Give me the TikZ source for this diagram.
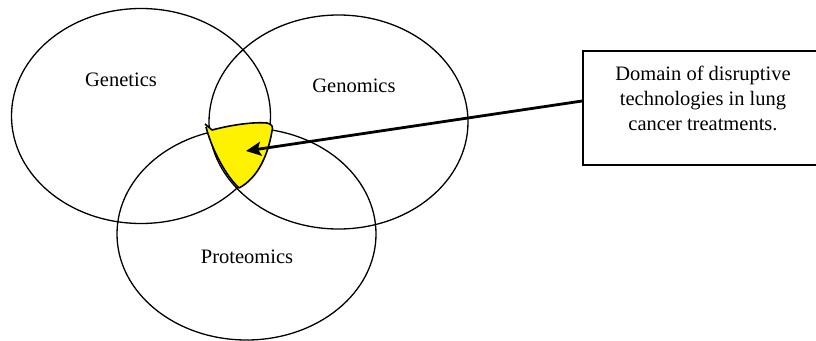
\documentclass[tikz,border=0pt]{standalone}
\usepackage{fontspec}
\setmainfont{Liberation Serif}
\usetikzlibrary{shapes.geometric,arrows.meta}
\begin{document}
\begin{tikzpicture}[x=1pt,y=-1pt,
  setcirc/.style={draw,ellipse,line width=1.3pt,inner sep=0pt,minimum width=259pt,minimum height=215pt},
  lbl/.style={font=\fontsize{20.5}{25}\selectfont,inner sep=0pt},
  infobox/.style={draw,line width=1.8pt,minimum width=240pt,minimum height=114pt,inner sep=0pt},
  pointer/.style={line width=2.8pt,-{Stealth[length=15pt,width=14pt,inset=3pt]}}
 ]
\useasboundingbox (0,0) rectangle (816,340);
\clip (0,0) rectangle (816,340);
\node[setcirc] (genetics) at (141,116) {};
\node[setcirc,minimum height=214pt] (genomics) at (338.5,122) {};
\node[setcirc,minimum height=212pt] (proteomics) at (246.5,234) {};
\node[lbl] (tgenetics) at (121,80) {Genetics};
\node[lbl] (tgenomics) at (354,86) {Genomics};
\node[lbl] (tproteomics) at (247,257) {Proteomics};
\fill[yellow] (205,124) -- (212,130) .. controls (235,124) and (255,122) .. (267,123)
  .. controls (273,124) and (273,128) .. (272,131)
  .. controls (268,155) and (258,178) .. (239,188)
  .. controls (226,176) and (212,150) .. (206,127) -- cycle;
\draw[line width=1.6pt,line join=round] (205,124) -- (212,130) .. controls (235,124) and (255,122) .. (267,123)
  .. controls (273,124) and (273,128) .. (272,131)
  .. controls (268,155) and (258,178) .. (239,188)
  .. controls (226,176) and (212,150) .. (206,127);
\node[infobox] (box) at (703,108) {};
\node[lbl,align=center] (boxtxt) at (703,98) {Domain of disruptive\\technologies in lung\\cancer treatments.};
\coordinate (tip) at (246,151);
\draw[pointer] ([yshift=7pt]box.west) -- (tip);
\end{tikzpicture}
\end{document}
